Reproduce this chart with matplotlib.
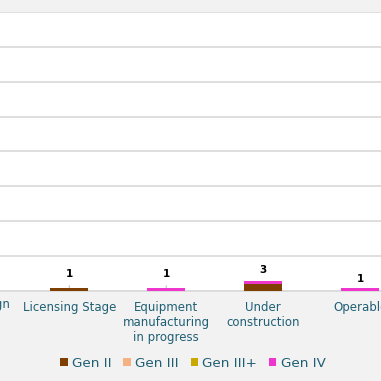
import numpy as np
import matplotlib.pyplot as plt

categories = ["Basic Design", "Licensing Stage",
              "Equipment\nmanufacturing\nin progress",
              "Under\nconstruction", "Operable"]
series = ["Gen II", "Gen III", "Gen III+", "Gen IV"]
gen_ii = [0, 1, 0, 2, 0]
gen_iii = [0, 0, 0, 0, 0]
gen_iii_plus = [0, 0, 0, 0, 0]
gen_iv = [0, 0, 1, 1, 1]
colors = ["#7f3f00", "#f4b183", "#c9a800", "#ee36cc"]

# label offsets (points above bar top), leader line or not
label_offset = [10, 10, 10, 8, 6]
leader = [False, True, True, False, False]

bg = "#f2f2f2"
txt = "#1f5f74"

fig = plt.figure(figsize=(3.81, 3.81), dpi=100, facecolor=bg)
ax = fig.add_axes([0, 0.236, 1, 0.733])
ax.set_facecolor("white")

x = np.arange(len(categories))
bottom = np.zeros(len(categories))
for name, vals, c in zip(series, [gen_ii, gen_iii, gen_iii_plus, gen_iv], colors):
    ax.bar(x, vals, 0.39, bottom=bottom, color=c, label=name, zorder=3)
    bottom += np.array(vals)

for i, tot in enumerate(bottom):
    if tot == 0:
        continue
    arrow = None
    if leader[i]:
        arrow = dict(arrowstyle="-", color="#c0c0c0", lw=0.8, shrinkA=3, shrinkB=0)
    ax.annotate(str(int(tot)), (x[i], tot), xytext=(0, label_offset[i]),
                textcoords="offset points", ha="center", va="center",
                fontsize=7.5, fontweight="bold", color="black", zorder=4,
                arrowprops=arrow)

ax.set_yticks(np.arange(0, 81, 10))
ax.yaxis.grid(True, color="#d9d9d9", lw=1.2, zorder=0)
ax.tick_params(axis="y", left=False, labelleft=False)
ax.tick_params(axis="x", bottom=False, labelsize=8.5, labelcolor=txt, pad=3.5)
ax.set_xticks(x[1:])
ax.set_xticklabels(categories[1:], linespacing=1.2)
ax.set_xlim(0.285, 4.215)
ax.set_ylim(0, 80)
for s in ["top", "left", "right"]:
    ax.spines[s].set_visible(False)
ax.spines["bottom"].set_color("#d9d9d9")
ax.spines["bottom"].set_linewidth(1.2)

# first category label sits partly outside the figure
ax.text(0, -0.025, categories[0], transform=ax.get_xaxis_transform(),
        ha="center", va="top", fontsize=8.5, color=txt, clip_on=False)

fig.legend(loc="center", bbox_to_anchor=(0.506, 0.046), ncol=4, frameon=False,
           fontsize=9.7, labelcolor=txt, handlelength=0.55, handleheight=0.55,
           handletextpad=0.3, columnspacing=0.9)

fig.savefig("out.png", dpi=100, facecolor=bg)
